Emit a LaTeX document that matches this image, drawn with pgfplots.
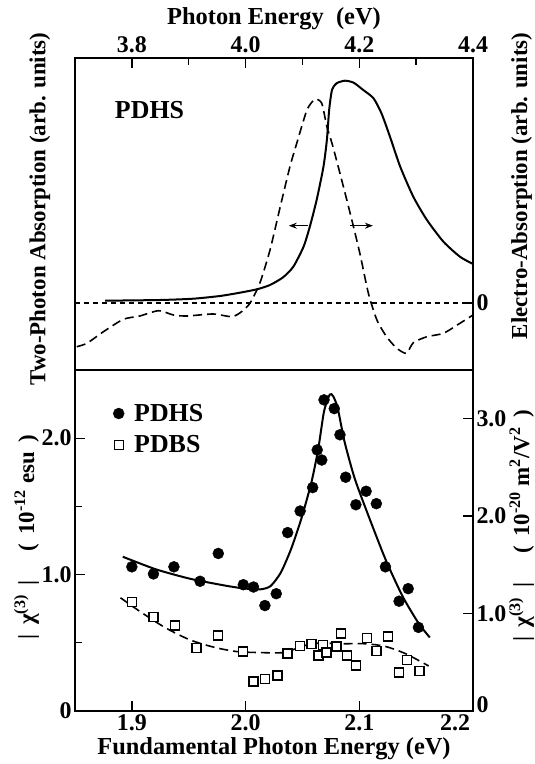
\documentclass[border=0pt]{standalone}
\usepackage{fontspec}
\setmainfont{Liberation Serif}
\usepackage{pgfplots}
\pgfplotsset{compat=1.18}
\usetikzlibrary{arrows.meta}

\newcommand{\tickfont}{\fontsize{24}{26}\selectfont\bfseries}
\newcommand{\labfont}{\fontsize{24.5}{26}\selectfont\bfseries}
\newcommand{\ylabfont}{\fontsize{23}{26}\selectfont\bfseries}
\newcommand{\bigfont}{\fontsize{26}{28}\selectfont\bfseries}

\pgfplotsset{
  panel/.style={
    scale only axis, width=398bp,
    axis line style={line width=1.8bp},
    tick style={line width=1.3bp, black},
    tick align=inside,
    major tick length=10bp, minor tick length=7bp,
    /pgf/number format/assume math mode=true,
    ticklabel style={font=\tickfont},
    label style={font=\labfont},
    ylabel style={font=\ylabfont},
  },
}

\begin{document}
\begin{tikzpicture}
% ---------- lower panel: |chi(3)| ----------
\begin{axis}[panel, name=bot, at={(0,0)}, anchor=south west, height=341bp,
  xmin=1.85, xmax=2.2, ymin=0, ymax=2.5,
  xtick={1.9,2.0,2.1,2.2}, xticklabels={1.9,2.0,2.1,\llap{2.2\kern3bp}},
  ytick={0,1,2}, yticklabels={0,1.0,2.0}, minor ytick={0.5,1.5},
  xtick pos=left, ytick pos=left,
  xlabel={Fundamental Photon Energy (eV)},
  ylabel={|\ \,χ\textsuperscript{(3)}\ \,|\quad\ (\, 10\textsuperscript{-12} esu \,)},
  ylabel style={at={(axis description cs:-0.122,0.51)}, anchor=center},
  legend style={draw=none, fill=none, at={(0.088,0.912)}, anchor=north west,
    font=\bigfont, row sep=9bp, column sep=8bp},
  legend cell align=left,
]
\addplot[only marks, mark=*, mark size=5.5bp, black] coordinates {
 (1.900,1.057) (1.919,1.005) (1.937,1.057) (1.960,0.951) (1.976,1.155)
 (1.998,0.926) (2.007,0.909) (2.017,0.773) (2.027,0.860) (2.037,1.308)
 (2.048,1.466) (2.059,1.638) (2.063,1.914) (2.067,1.840) (2.069,2.281)
 (2.078,2.217) (2.083,2.025) (2.088,1.714) (2.097,1.512) (2.106,1.611)
 (2.115,1.520) (2.123,1.057) (2.135,0.805) (2.143,0.897) (2.152,0.613)};
\addlegendentry{PDHS}
\addplot[only marks, mark=square*, mark size=4.5bp, black, line width=1.4bp,
  mark options={fill=white}] coordinates {
 (1.900,0.798) (1.919,0.690) (1.938,0.628) (1.957,0.461) (1.976,0.554)
 (1.998,0.436) (2.007,0.217) (2.017,0.236) (2.028,0.261) (2.037,0.421)
 (2.048,0.478) (2.058,0.490) (2.064,0.406) (2.068,0.485) (2.071,0.429)
 (2.080,0.473) (2.084,0.567) (2.089,0.406) (2.097,0.333) (2.107,0.534)
 (2.115,0.441) (2.125,0.547) (2.135,0.283) (2.142,0.374) (2.153,0.293)};
\addlegendentry{PDBS}
\addplot[smooth, tension=0.4, line width=2bp, black, forget plot] coordinates {
 (1.892,1.131) (1.921,1.039) (1.951,0.970) (1.981,0.921) (1.998,0.899)
 (2.013,0.892) (2.022,0.916) (2.031,1.015) (2.040,1.187) (2.049,1.409)
 (2.058,1.680) (2.064,1.926) (2.069,2.197) (2.074,2.320) (2.077,2.308)
 (2.081,2.222) (2.087,1.975) (2.096,1.704) (2.108,1.433) (2.123,1.113)
 (2.138,0.842) (2.152,0.645) (2.162,0.539)};
\addplot[smooth, tension=0.5, line width=1.6bp, black, dash pattern=on 9bp off 5bp,
  forget plot] coordinates {
 (1.890,0.830) (1.909,0.719) (1.930,0.608) (1.951,0.522) (1.972,0.468)
 (1.992,0.436) (2.010,0.429) (2.034,0.429) (2.049,0.473) (2.064,0.498)
 (2.084,0.493) (2.105,0.493) (2.123,0.473) (2.141,0.419) (2.161,0.330)};
\end{axis}
\begin{axis}[panel, at={(0,0)}, anchor=south west, height=341bp,
  xmin=1.85, xmax=2.2, ymin=0, ymax=3.5, hide x axis,
  ytick={0,1,2,3}, yticklabels={\raisebox{12bp}{0},1.0,2.0,3.0},
  ytick pos=right, yticklabel pos=right,
  ylabel={|\ \,χ\textsuperscript{(3)}\ \,|\quad\ (\, 10\textsuperscript{-20} m\textsuperscript{2}/V\textsuperscript{2} \,)},
  ylabel style={at={(axis description cs:1.122,0.543)}, anchor=center},
]
\addplot[draw=none] coordinates {(1.9,0) (2.1,1)};
\end{axis}

% ---------- upper panel: absorption spectra ----------
\begin{axis}[panel, name=top, at={(0,341bp)}, anchor=south west, height=312bp,
  xmin=3.70, xmax=4.40, ymin=-0.67, ymax=2.45,
  xtick={3.8,4.0,4.2,4.4}, xticklabels={3.8,4.0,4.2,\llap{4.4\kern-15bp}},
  minor xtick={3.9,4.1,4.3},
  xtick pos=right, xticklabel pos=right, ytick=\empty,
  xticklabel style={yshift=2bp},
  xlabel={Photon Energy\ \ (eV)},
  ylabel={Two-Photon Absorption (arb. units)},
  ylabel style={at={(axis description cs:-0.088,0.516)}, anchor=center},
]
\addplot[line width=1.2bp, black, dash pattern=on 5bp off 4bp] coordinates {(3.70,0) (4.40,0)};
\addplot[smooth, tension=0.4, line width=2bp, black] coordinates {
 (3.753,0.023) (3.850,0.030) (3.908,0.043) (3.955,0.070) (3.990,0.103)
 (4.020,0.137) (4.043,0.180) (4.066,0.257) (4.084,0.363) (4.102,0.563)
 (4.113,0.763) (4.125,1.030) (4.137,1.363) (4.143,1.630) (4.147,1.930)
 (4.152,2.130) (4.160,2.197) (4.175,2.223) (4.190,2.203) (4.207,2.130)
 (4.225,2.047) (4.239,1.897) (4.254,1.663) (4.272,1.363) (4.295,1.063)
 (4.319,0.830) (4.348,0.613) (4.377,0.463) (4.400,0.390)};
\addplot[smooth, tension=0.4, line width=1.6bp, black, dash pattern=on 9bp off 5bp] coordinates {
 (3.703,-0.437) (3.721,-0.403) (3.750,-0.287) (3.785,-0.163) (3.814,-0.130)
 (3.847,-0.077) (3.873,-0.120) (3.897,-0.130) (3.943,-0.110) (3.976,-0.137)
 (3.993,-0.087) (4.008,0.000) (4.025,0.197) (4.043,0.530) (4.061,0.963)
 (4.078,1.363) (4.090,1.597) (4.108,1.930) (4.122,2.037) (4.134,1.997)
 (4.143,1.763) (4.152,1.597) (4.166,1.297) (4.184,0.897) (4.201,0.497)
 (4.216,0.097) (4.231,-0.170) (4.248,-0.337) (4.266,-0.453) (4.283,-0.503)
 (4.295,-0.397) (4.319,-0.337) (4.348,-0.303) (4.377,-0.203) (4.400,-0.120)};
\draw[line width=1.4bp, -{Stealth[length=8bp,width=6bp]}] (axis cs:4.110,0.773) -- (axis cs:4.076,0.773);
\draw[line width=1.4bp, -{Stealth[length=8bp,width=6bp]}] (axis cs:4.184,0.773) -- (axis cs:4.224,0.773);
\node[anchor=west, inner sep=0pt, font=\bigfont] at (axis cs:3.770,1.93) {PDHS};
\end{axis}
\begin{axis}[panel, at={(0,341bp)}, anchor=south west, height=312bp,
  xmin=3.70, xmax=4.40, ymin=-0.67, ymax=2.45, hide x axis,
  ytick={0}, yticklabels={0}, ytick pos=right, yticklabel pos=right,
  ylabel={Electro-Absorption (arb. units)},
  ylabel style={at={(axis description cs:1.122,0.59)}, anchor=center},
]
\addplot[draw=none] coordinates {(3.8,0) (4.2,1)};
\end{axis}

\pgfresetboundingbox
\path (-75bp,-53bp) rectangle (460bp,711bp);
\end{tikzpicture}
\end{document}
